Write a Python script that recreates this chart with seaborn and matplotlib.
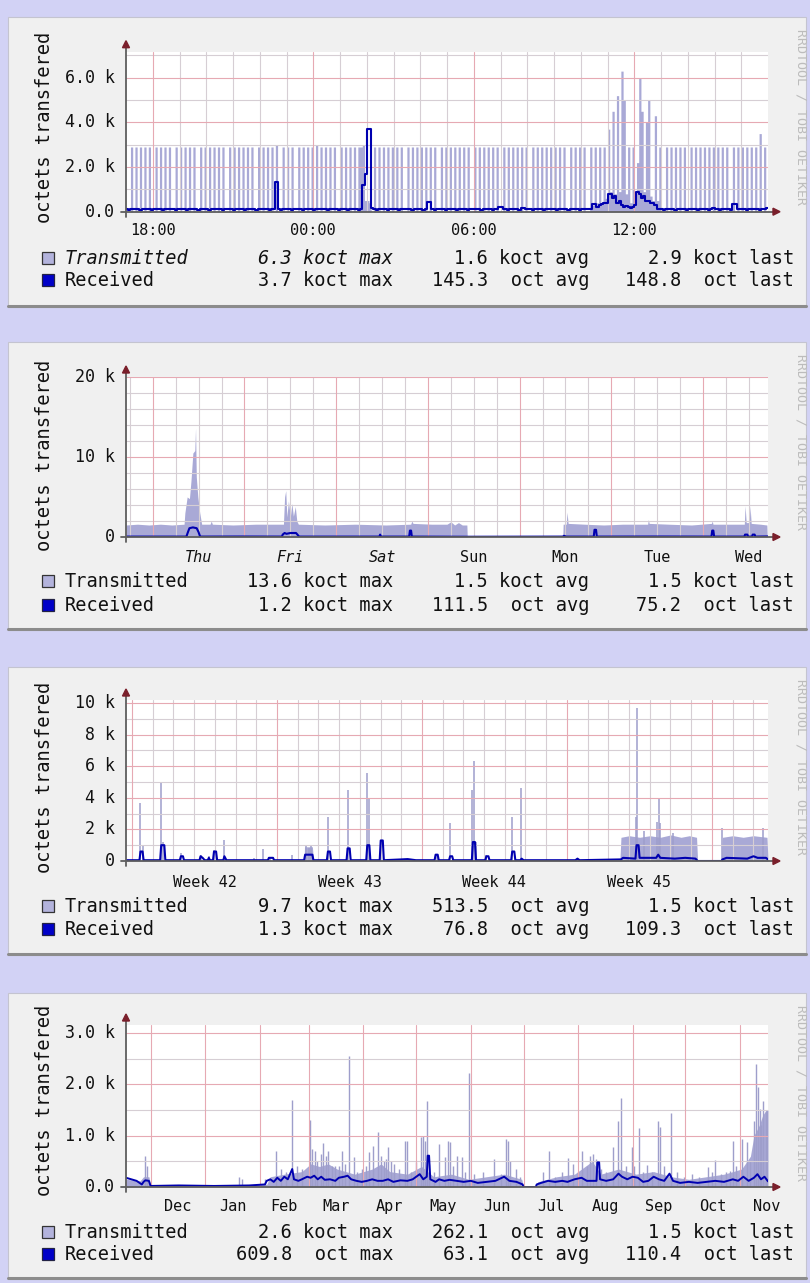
import numpy as np
import matplotlib
matplotlib.use("Agg")
import matplotlib.pyplot as plt
import seaborn as sns
from matplotlib.patches import Rectangle, Polygon
from matplotlib.lines import Line2D

# ----------------------------------------------------------------- data
# Daily graph: 5-minute samples starting 17:00 (koct), 12 rows of 2 hours
day_tx_rows = [
    [0, 0, 2.9, 0, 2.9, 0, 2.9, 0, 2.9, 0, 2.9, 0, 0, 2.9, 0, 2.9, 0, 2.9, 0, 2.9, 0, 0, 2.9, 0],
    [2.9, 0, 2.9, 0, 2.9, 0, 2.9, 0, 0, 2.9, 0, 2.9, 0, 2.9, 0, 2.9, 0, 2.9, 0, 2.9, 0, 0, 2.9, 0],
    [2.9, 0, 2.9, 0, 2.9, 0, 2.9, 0, 2.9, 0, 0, 2.9, 0, 2.9, 0, 2.9, 0, 2.9, 0, 3.0, 0, 0, 2.9, 0],
    [2.9, 0, 2.9, 0, 0, 2.9, 0, 2.9, 0, 2.9, 0, 2.9, 0, 3.0, 0, 2.9, 0, 2.9, 0, 2.9, 0, 2.9, 0, 0],
    [2.9, 0, 2.9, 0, 2.9, 0, 2.9, 0, 2.9, 2.9, 3.0, 0.5, 0.5, 0.4, 0, 2.9, 0, 2.9, 0, 2.9, 0, 2.9, 0, 2.9],
    [0, 2.9, 0, 2.9, 0, 0, 2.9, 0, 2.9, 0, 2.9, 0, 2.9, 0, 2.9, 0, 2.9, 0, 2.9, 0, 0, 2.9, 0, 2.9],
    [0, 2.9, 0, 2.9, 0, 2.9, 0, 2.9, 0, 2.9, 0, 0, 2.9, 0, 2.9, 0, 2.9, 0, 2.9, 0, 2.9, 0, 2.9, 0],
    [0, 2.9, 0, 2.9, 0, 2.9, 0, 2.9, 0, 2.9, 0, 2.9, 0, 0, 2.9, 0, 2.9, 0, 2.9, 0, 2.9, 0, 2.9, 0],
    [2.9, 0, 2.9, 0, 2.9, 0, 0, 2.9, 0, 2.9, 0, 2.9, 0, 2.9, 0, 0, 2.9, 0.3, 2.9, 0.4, 2.9, 0.4, 2.9, 0.6],
    [3.7, 0.9, 4.5, 0.8, 5.2, 0.9, 6.3, 5.0, 0.8, 2.9, 0.4, 2.9, 0.5, 2.2, 6.0, 4.5, 0.9, 4.0, 5.0, 0.7, 0.5, 4.3, 0.5, 2.9],
    [0, 0, 2.9, 0, 2.9, 0, 2.9, 0, 2.9, 0, 2.9, 0, 0, 2.9, 0, 2.9, 0, 2.9, 0, 2.9, 0, 2.9, 0, 2.9],
    [0, 2.9, 0, 2.9, 0, 2.9, 0, 0, 2.9, 0, 2.9, 0, 2.9, 0, 2.9, 0, 2.9, 0, 2.9, 0, 3.5, 0, 2.9, 0],
]
day_rx_rows = [
    [0.1, 0.08, 0.1, 0.12, 0.1, 0.1, 0.08, 0.1, 0.12, 0.1, 0.1, 0.08, 0.1, 0.1, 0.12, 0.1, 0.08, 0.1, 0.1, 0.12, 0.1, 0.1, 0.08, 0.1],
    [0.12, 0.1, 0.1, 0.08, 0.1, 0.12, 0.1, 0.1, 0.08, 0.1, 0.1, 0.12, 0.1, 0.08, 0.1, 0.1, 0.12, 0.1, 0.1, 0.08, 0.1, 0.12, 0.1, 0.1],
    [0.08, 0.1, 0.12, 0.1, 0.1, 0.08, 0.1, 0.1, 0.12, 0.1, 0.08, 0.1, 0.1, 0.12, 0.1, 0.1, 0.08, 0.1, 0.1, 1.35, 0.1, 0.08, 0.1, 0.12],
    [0.1, 0.1, 0.08, 0.1, 0.12, 0.1, 0.1, 0.08, 0.1, 0.1, 0.12, 0.1, 0.08, 0.1, 0.1, 0.12, 0.1, 0.1, 0.08, 0.1, 0.12, 0.1, 0.1, 0.08],
    [0.1, 0.12, 0.1, 0.08, 0.1, 0.1, 0.12, 0.1, 0.08, 0.1, 1.2, 1.7, 3.7, 3.7, 0.15, 0.1, 0.08, 0.1, 0.12, 0.1, 0.1, 0.08, 0.1, 0.1],
    [0.12, 0.1, 0.08, 0.1, 0.1, 0.12, 0.1, 0.1, 0.08, 0.1, 0.12, 0.1, 0.1, 0.08, 0.1, 0.45, 0.45, 0.1, 0.08, 0.1, 0.12, 0.1, 0.1, 0.08],
    [0.1, 0.1, 0.12, 0.1, 0.08, 0.1, 0.1, 0.12, 0.1, 0.08, 0.1, 0.1, 0.12, 0.1, 0.1, 0.08, 0.1, 0.12, 0.1, 0.1, 0.08, 0.1, 0.12, 0.2],
    [0.2, 0.1, 0.1, 0.08, 0.1, 0.12, 0.1, 0.1, 0.08, 0.15, 0.15, 0.1, 0.12, 0.1, 0.08, 0.1, 0.1, 0.12, 0.1, 0.08, 0.1, 0.1, 0.12, 0.1],
    [0.1, 0.08, 0.1, 0.12, 0.1, 0.1, 0.08, 0.1, 0.12, 0.1, 0.1, 0.08, 0.1, 0.12, 0.1, 0.1, 0.1, 0.35, 0.35, 0.2, 0.3, 0.35, 0.4, 0.4],
    [0.8, 0.8, 0.6, 0.7, 0.4, 0.5, 0.3, 0.2, 0.25, 0.2, 0.15, 0.2, 0.3, 0.9, 0.8, 0.6, 0.7, 0.5, 0.5, 0.4, 0.4, 0.3, 0.1, 0.1],
    [0.1, 0.08, 0.1, 0.12, 0.1, 0.1, 0.08, 0.1, 0.12, 0.1, 0.1, 0.08, 0.1, 0.12, 0.1, 0.1, 0.08, 0.1, 0.1, 0.12, 0.1, 0.08, 0.1, 0.15],
    [0.1, 0.1, 0.08, 0.1, 0.12, 0.1, 0.1, 0.08, 0.35, 0.35, 0.1, 0.1, 0.12, 0.1, 0.08, 0.1, 0.1, 0.12, 0.1, 0.1, 0.08, 0.1, 0.12, 0.15],
]
day_tick_hours = [1, 7, 13, 19]
day_tick_labels = ["18:00", "00:00", "06:00", "12:00"]

# Weekly graph: (hours since Wed 17:00, koct) vertices
week_tx = [(0, 1.5), (3, 1.6), (6, 1.5), (9, 1.6), (12, 1.5), (15.2, 1.6), (15.4, 3.0),
           (16.0, 5.0), (16.6, 4.8), (17.0, 7.0), (17.5, 10.5), (18.0, 10.8), (18.2, 13.6),
           (18.4, 7.5), (18.8, 5.0), (19.3, 3.0), (19.8, 1.6), (22.0, 1.6), (22.3, 2.0),
           (22.6, 1.6), (28, 1.5), (34, 1.6), (41.2, 1.6), (41.5, 5.0), (41.8, 5.8),
           (42.1, 2.5), (42.5, 4.5), (43.0, 2.5), (43.4, 4.2), (43.8, 2.6), (44.3, 3.8),
           (44.7, 2.0), (45.1, 1.6), (52, 1.5), (60, 1.6), (68, 1.5), (74.5, 1.6), (74.8, 2.0),
           (75.1, 1.7), (80, 1.6), (84, 1.6), (85, 1.9), (86, 1.5), (87, 1.8), (88, 1.5),
           (89.2, 1.5), (89.3, 0.0), (114.3, 0.0), (114.4, 1.6), (115.2, 1.6), (115.4, 3.1),
           (115.7, 1.7), (120, 1.6), (125, 1.5), (130, 1.6), (136.5, 1.6), (136.7, 2.2),
           (136.9, 1.7), (142, 1.6), (148, 1.5), (153.2, 1.7), (153.4, 2.0), (153.6, 1.6),
           (158, 1.6), (161.8, 1.6), (162.0, 3.9), (162.3, 1.8), (163.1, 1.8), (163.3, 3.9),
           (163.6, 1.7), (166, 1.6), (167.7, 1.5), (167.8, 0.0), (168, 0.0)]
week_rx = [(0, 0.05), (15.8, 0.05), (16.2, 0.6), (16.6, 1.1), (17.5, 1.2), (18.5, 1.1),
           (19.0, 0.6), (19.4, 0.05), (30, 0.06), (40.8, 0.05), (41.0, 0.3), (41.5, 0.5),
           (42.0, 0.4), (43.0, 0.5), (44.5, 0.5), (45.3, 0.05), (55, 0.05), (66.3, 0.05),
           (66.5, 0.3), (66.7, 0.05), (74.1, 0.05), (74.3, 0.8), (74.6, 0.8), (74.8, 0.05),
           (89.3, 0.03), (114.4, 0.05), (114.6, 0.15), (115.2, 0.05), (122.4, 0.05),
           (122.6, 0.9), (123.0, 0.9), (123.2, 0.05), (140, 0.06), (153.2, 0.05), (153.4, 0.8),
           (153.7, 0.8), (153.9, 0.05), (161.8, 0.05), (162.0, 0.3), (162.6, 0.3),
           (162.8, 0.05), (163.8, 0.05), (164.0, 0.3), (164.5, 0.3), (164.7, 0.05), (168, 0.07)]
week_tick_hours = [19, 43, 67, 91, 115, 139, 163]
week_tick_labels = ["Thu", "Fri", "Sat", "Sun", "Mon", "Tue", "Wed"]

# Monthly graph: (days since start, koct)
month_floor = [(0, 0.05), (8.6, 0.05), (8.62, 0.9), (9.0, 0.9), (9.05, 0.05), (23.85, 0.05),
               (23.9, 1.5), (24.3, 1.6), (24.8, 1.5), (25.3, 1.6), (25.8, 1.5), (26.3, 1.65),
               (26.8, 1.5), (27.2, 1.6), (27.55, 1.5), (27.6, 0.0), (28.75, 0.0), (28.8, 1.5),
               (29.3, 1.6), (29.8, 1.5), (30.3, 1.6), (30.95, 1.5), (31.0, 0.05)]
month_spikes = [(0.7, 3.7), (0.8, 1.0), (1.7, 5.0), (1.78, 1.2), (2.65, 0.5), (3.6, 0.4),
                (4.0, 0.3), (4.25, 0.7), (4.35, 0.6), (4.75, 1.3), (6.2, 0.2), (6.6, 0.75),
                (6.95, 0.25), (8.0, 0.35), (8.7, 1.0), (8.82, 0.8), (8.95, 1.0), (9.75, 2.8),
                (10.7, 4.5), (11.65, 5.6), (11.72, 4.0), (12.3, 1.3), (15.0, 0.45), (15.65, 2.4),
                (16.72, 4.5), (16.78, 6.3), (16.9, 1.2), (17.4, 0.4), (18.65, 2.8), (19.05, 4.6),
                (21.8, 0.15), (24.65, 2.8), (24.68, 9.7), (25.0, 1.9), (25.65, 2.5), (25.72, 4.0),
                (25.8, 2.4), (26.4, 1.8), (28.8, 2.1), (30.75, 2.1)]
month_rx = [(0, 0.05), (0.65, 0.05), (0.7, 0.6), (0.8, 0.6), (0.85, 0.05), (1.65, 0.05),
            (1.7, 1.0), (1.85, 1.0), (1.9, 0.05), (2.6, 0.05), (2.65, 0.3), (2.75, 0.3),
            (2.8, 0.05), (3.55, 0.05), (3.6, 0.3), (3.7, 0.2), (3.8, 0.05), (3.95, 0.05),
            (4.0, 0.2), (4.05, 0.05), (4.2, 0.05), (4.25, 0.6), (4.35, 0.6), (4.4, 0.05),
            (4.7, 0.05), (4.75, 0.3), (4.85, 0.05), (6.85, 0.05), (6.9, 0.2), (7.1, 0.2),
            (7.15, 0.05), (8.6, 0.05), (8.65, 0.4), (9.0, 0.4), (9.05, 0.05), (9.7, 0.05),
            (9.75, 0.6), (9.85, 0.6), (9.9, 0.05), (10.65, 0.05), (10.7, 0.8), (10.8, 0.8),
            (10.85, 0.05), (11.6, 0.05), (11.65, 1.0), (11.75, 1.0), (11.8, 0.05), (12.25, 0.05),
            (12.3, 1.3), (12.4, 1.3), (12.45, 0.05), (13.3, 0.1), (13.6, 0.12), (14.0, 0.05),
            (14.9, 0.05), (14.95, 0.4), (15.05, 0.4), (15.1, 0.05), (15.6, 0.05), (15.65, 0.3),
            (15.75, 0.3), (15.8, 0.05), (16.7, 0.05), (16.75, 1.2), (16.85, 1.2), (16.9, 0.05),
            (17.35, 0.05), (17.4, 0.3), (17.5, 0.3), (17.55, 0.05), (18.6, 0.05), (18.65, 0.6),
            (18.75, 0.6), (18.8, 0.05), (19.05, 0.05), (19.1, 0.15), (19.2, 0.05), (21.7, 0.05),
            (21.8, 0.15), (21.9, 0.05), (23.9, 0.1), (24.0, 0.2), (24.6, 0.15), (24.65, 1.0),
            (24.75, 1.0), (24.8, 0.2), (25.6, 0.2), (25.7, 0.4), (25.8, 0.2), (26.5, 0.15),
            (27.0, 0.2), (27.5, 0.15), (27.6, 0.0), (28.75, 0.0), (28.8, 0.1), (29.0, 0.2),
            (30.0, 0.15), (30.3, 0.3), (30.5, 0.2), (30.9, 0.2), (31.0, 0.1)]
month_tick_days = [3.79, 10.79, 17.79, 24.79]
month_tick_labels = ["Week 42", "Week 43", "Week 44", "Week 45"]

# Yearly graph: (days since Nov 17, koct)
year_floor = [(0, 0.15), (8, 0.12), (10, 0.2), (13, 0.2), (14, 0.05), (80, 0.05), (82, 0.2),
              (90, 0.25), (100, 0.3), (105, 0.45), (110, 0.4), (115, 0.45), (120, 0.35),
              (125, 0.3), (130, 0.25), (140, 0.35), (145, 0.45), (150, 0.3), (160, 0.25),
              (168, 0.4), (175, 0.2), (185, 0.25), (195, 0.15), (205, 0.2), (215, 0.25),
              (225, 0.15), (226, 0.0), (233, 0.0), (234, 0.1), (245, 0.2), (255, 0.25),
              (265, 0.5), (270, 0.25), (280, 0.35), (290, 0.25), (300, 0.3), (310, 0.2),
              (320, 0.15), (330, 0.2), (340, 0.25), (350, 0.35), (355, 0.6), (357, 1.0),
              (360, 1.2), (362, 1.4), (364, 1.5), (365, 1.5)]
year_spikes = [(11.0, 0.6), (12.2, 0.4), (64, 0.2), (66, 0.15), (79, 0.15), (85.3, 0.7),
               (87.9, 0.35), (91, 0.3), (94.4, 1.7), (97, 0.4), (100, 0.35), (104.6, 1.3),
               (105.6, 0.75), (107.4, 0.7), (108.5, 0.5), (110.9, 0.65), (112.2, 0.85),
               (113.5, 0.6), (115, 0.7), (117, 0.4), (119, 0.4), (121, 0.4), (122.6, 0.7),
               (124.5, 0.45), (127, 2.55), (129.8, 0.58), (131.5, 0.3), (134, 0.35),
               (136.5, 0.4), (138.3, 0.68), (140.6, 0.8), (143.4, 1.08), (145, 0.6),
               (146.5, 0.5), (148, 0.55), (149.1, 0.77), (150.5, 0.5), (152.5, 0.45),
               (155, 0.35), (158.6, 0.9), (159.6, 0.9), (162, 0.3), (164.9, 0.48),
               (167.5, 0.97), (168.7, 1.0), (170, 0.9), (171, 1.68), (172.3, 0.45), (175, 0.3),
               (178.1, 0.84), (181.4, 0.58), (183.3, 0.9), (184.2, 0.87), (186, 0.4),
               (188, 0.61), (190.8, 0.58), (193, 0.3), (195, 2.23), (198, 0.25), (203, 0.3),
               (209.4, 0.55), (213, 0.25), (216, 0.94), (217.3, 0.9), (218.5, 0.5), (222, 0.35),
               (224, 0.2), (237, 0.3), (240.7, 0.7), (244, 0.2), (248, 0.3), (251.5, 0.57),
               (254.3, 0.45), (257, 0.3), (259, 0.71), (262, 0.4), (264, 0.6), (265.7, 0.65),
               (267, 0.55), (270, 0.35), (273, 0.3), (277, 0.77), (279.9, 1.29), (281.4, 1.73),
               (284, 0.4), (287.5, 0.77), (289, 0.4), (291.8, 1.15), (294, 0.3), (296, 0.42),
               (299, 0.3), (302.6, 1.29), (303.6, 1.16), (306, 0.4), (309.7, 1.45), (313, 0.3),
               (317, 0.2), (322, 0.25), (326, 0.2), (331, 0.39), (333, 0.3), (334.9, 0.52),
               (338, 0.25), (341, 0.3), (343.4, 0.32), (345.3, 0.9), (347, 0.4), (350, 0.94),
               (352.9, 0.87), (355, 0.5), (357, 1.29), (358.2, 2.39), (359.5, 1.94),
               (360.4, 1.52), (361.3, 1.2), (362.3, 1.68), (363.8, 1.48), (364.5, 1.5)]
year_rx = [(0, 0.18), (3, 0.15), (6, 0.12), (9, 0.05), (10, 0.1), (11, 0.13), (13, 0.12),
           (14, 0.02), (30, 0.03), (50, 0.02), (70, 0.03), (79, 0.05), (80, 0.12), (82, 0.15),
           (84, 0.1), (86, 0.18), (88, 0.12), (90, 0.2), (92, 0.15), (94.5, 0.35), (95.5, 0.15),
           (98, 0.12), (100, 0.15), (103, 0.2), (105, 0.18), (107, 0.22), (109, 0.15),
           (111, 0.2), (113, 0.14), (116, 0.15), (119, 0.12), (121, 0.18), (124, 0.2),
           (126, 0.22), (128, 0.15), (131, 0.12), (134, 0.1), (137, 0.12), (140, 0.15),
           (143, 0.12), (146, 0.12), (149, 0.15), (152, 0.1), (156, 0.13), (160, 0.12),
           (163, 0.15), (167, 0.25), (169, 0.15), (171, 0.2), (171.5, 0.61), (172.3, 0.61),
           (173, 0.15), (176, 0.1), (178, 0.15), (181, 0.12), (184, 0.14), (188, 0.12),
           (192, 0.1), (196, 0.12), (200, 0.08), (205, 0.1), (210, 0.12), (215, 0.2),
           (218, 0.12), (222, 0.1), (225.5, 0.05), (226, 0.0), (233, 0.0), (233.5, 0.05),
           (236, 0.08), (240, 0.12), (244, 0.1), (248, 0.12), (251, 0.1), (255, 0.15),
           (259, 0.18), (262, 0.12), (267.5, 0.12), (268, 0.48), (269, 0.48), (269.5, 0.15),
           (273, 0.12), (277, 0.15), (280, 0.26), (282, 0.2), (285, 0.15), (288, 0.2),
           (291, 0.18), (294, 0.1), (297, 0.12), (300, 0.2), (303, 0.15), (306, 0.12),
           (309, 0.26), (311, 0.12), (315, 0.08), (320, 0.1), (325, 0.08), (330, 0.1),
           (335, 0.12), (340, 0.1), (345, 0.15), (348, 0.12), (351, 0.2), (354, 0.12),
           (357, 0.18), (359, 0.25), (361, 0.15), (363, 0.2), (365, 0.11)]
year_month_starts = [14, 45, 76, 104, 135, 165, 196, 226, 257, 288, 318, 349]
year_tick_days = [29.5, 60.5, 90, 119.5, 150, 180.5, 211, 241.5, 272.5, 303, 333.5, 364]
year_tick_labels = ["Dec", "Jan", "Feb", "Mar", "Apr", "May", "Jun", "Jul", "Aug", "Sep",
                    "Oct", "Nov"]

series_names = ["Transmitted", "Received"]
stats_day = [["6.3 koct max", "1.6 koct avg", "2.9 koct last"],
             ["3.7 koct max", "145.3  oct avg", "148.8  oct last"]]
stats_week = [["13.6 koct max", "1.5 koct avg", "1.5 koct last"],
              ["1.2 koct max", "111.5  oct avg", "75.2  oct last"]]
stats_month = [["9.7 koct max", "513.5  oct avg", "1.5 koct last"],
               ["1.3 koct max", "76.8  oct avg", "109.3  oct last"]]
stats_year = [["2.6 koct max", "262.1  oct avg", "1.5 koct last"],
              ["609.8  oct max", "63.1  oct avg", "110.4  oct last"]]

# ----------------------------------------------------------------- style
W, H = 810, 1283
sns.set_theme(style="white")
plt.rcParams['font.family'] = ['DejaVu Sans Mono', 'DejaVu Sans']

TX = "#a9a9d6"
TX_SPIKE = "#9e9ecb"
RX = "#0000b0"
MINOR = "#d6ced4"
MAJOR = "#e6a9b3"
AXIS = "#5e5e5e"
ARROW = "#7a1f2b"

fig = plt.figure(figsize=(W / 100, H / 100), dpi=100)
fig.patch.set_facecolor("#d2d2f5")


def F(x, y):
    return (x / W, 1 - y / H)


def ftext(x, y, s, **kw):
    fx, fy = F(x, y)
    return fig.text(fx, fy, s, **kw)


L, R = 126, 768


def panel(box, top, bottom, xlim, ylim, yticks, ylabels, hminor, hmajor, vminor, vmajor,
          xticks, xlabels, xl_base, leg_base, ylab_c, stats, italic_x=(), italic_tx=False):
    # panel background
    x0, y0 = F(8, box[1])
    fig.add_artist(Rectangle((x0, y0), 798 / W, (box[1] - box[0]) / H, transform=fig.transFigure,
                             facecolor="#f0f0f0", edgecolor="#c4c4d0", lw=0.8, zorder=-2))
    fig.add_artist(Line2D([8 / W, 806 / W], [1 - (box[1] - 1) / H] * 2, transform=fig.transFigure,
                          color="#8c8c8c", lw=2.2, zorder=-1))
    ax = fig.add_axes([L / W, 1 - bottom / H, (R - L) / W, (bottom - top) / H])
    ax.set_facecolor("white")
    for s in ax.spines.values():
        s.set_visible(False)
    ax.set_xticks([])
    ax.set_yticks([])
    for v in hminor:
        ax.axhline(v, color=MINOR, lw=0.8, zorder=2.5)
    for v in hmajor:
        ax.axhline(v, color=MAJOR, lw=0.8, zorder=2.6)
    for v in vminor:
        ax.axvline(v, color=MINOR, lw=0.8, zorder=2.5)
    for v in vmajor:
        ax.axvline(v, color=MAJOR, lw=0.8, zorder=2.6)
    ph = bottom - top
    # y tick labels
    for v, lab in zip(yticks, ylabels):
        ax.text(-11 / (R - L), v, lab, transform=ax.get_yaxis_transform(), ha="right",
                va="center", fontsize=12, color="#111111")
    # x tick labels
    for v, lab in zip(xticks, xlabels):
        ax.text(v, -(xl_base - bottom) / ph, lab, transform=ax.get_xaxis_transform(),
                ha="center", va="baseline", fontsize=11, color="#111111",
                style="italic" if lab in italic_x else "normal")
    # axes lines and arrows
    fig.add_artist(Line2D([L / W, L / W], [1 - (bottom + 5) / H, 1 - (top - 5) / H],
                          transform=fig.transFigure, color=AXIS, lw=1.3, zorder=5))
    fig.add_artist(Line2D([121 / W, 774 / W], [1 - bottom / H] * 2,
                          transform=fig.transFigure, color=AXIS, lw=1.3, zorder=5))
    fig.add_artist(Polygon([F(L - 3.5, top - 4), F(L + 3.5, top - 4), F(L, top - 11)],
                           closed=True, transform=fig.transFigure, color=ARROW, zorder=6))
    fig.add_artist(Polygon([F(773, bottom - 3.5), F(773, bottom + 3.5), F(780, bottom)],
                           closed=True, transform=fig.transFigure, color=ARROW, zorder=6))
    # y axis title
    ftext(45, ylab_c, "octets transfered", rotation=90, ha="center", va="center",
          fontsize=13.5, color="#111111")
    # watermark
    ftext(801, box[0] + 12, "RRDTOOL / TOBI OETIKER", rotation=270, ha="center", va="top",
          fontsize=9.6, color="#bcbcbc")
    # legend
    colors = [("#b3b3dc", "#333333"), ("#0000c8", "#222244")]
    for k in range(2):
        base = leg_base[k]
        sx, sy = F(42, base)
        fig.add_artist(Rectangle((sx, sy), 12 / W, 12 / H, transform=fig.transFigure,
                                 facecolor=colors[k][0], edgecolor=colors[k][1], lw=0.9, zorder=5))
        it = "italic" if (k == 0 and italic_tx) else "normal"
        ftext(65, base, series_names[k], ha="left", va="baseline", fontsize=13.4,
              color="#111111", style=it)
        for j, xe in enumerate([393, 589, 794]):
            it2 = "italic" if (k == 0 and italic_tx and j == 0) else "normal"
            ftext(xe, base, stats[k][j], ha="right", va="baseline", fontsize=13.4,
                  color="#111111", style=it2)
    ax.set_xlim(*xlim)
    ax.set_ylim(*ylim)
    return ax


# ---------------- panel 1: daily
ax1 = panel((17, 307), 51.7, 211.7, (0, 24), (0, 7.17), [0, 2, 4, 6],
            ["0.0", "2.0 k", "4.0 k", "6.0 k"], [1, 3, 5, 7], [2, 4, 6],
            [h for h in range(1, 24) if h not in day_tick_hours], day_tick_hours,
            day_tick_hours, day_tick_labels, 235, (263.5, 286), 127, stats_day,
            italic_tx=True)
day_tx = np.concatenate([np.array(r, float) for r in day_tx_rows])
day_rx = np.concatenate([np.array(r, float) for r in day_rx_rows])
t_day = np.arange(len(day_tx) + 1) / 12.0
ax1.fill_between(t_day, 0, np.append(day_tx, day_tx[-1]), step="post", color=TX, lw=0,
                 zorder=2)
sns.lineplot(x=t_day, y=np.append(day_rx, day_rx[-1]), ax=ax1, color=RX, lw=1.5,
             drawstyle="steps-post", estimator=None, sort=False, errorbar=None, zorder=3)
ax1.set_xlim(0, 24); ax1.set_ylim(0, 7.17); ax1.set_xlabel(""); ax1.set_ylabel("")

# ---------------- panel 2: weekly
ax2 = panel((342, 630), 377, 537, (0, 168), (0, 20), [0, 10, 20], ["0", "10 k", "20 k"],
            [2, 4, 6, 8, 12, 14, 16, 18], [10, 20],
            [h for h in range(1, 168, 6) if (h - 7) % 24 != 0], list(range(7, 168, 24)),
            week_tick_hours, week_tick_labels, 562, (586.7, 611), 455, stats_week,
            italic_x=("Thu", "Fri", "Sat"))
wt, wv = zip(*week_tx)
ax2.fill_between(wt, 0, wv, color=TX, lw=0, zorder=2)
rt, rv = zip(*week_rx)
sns.lineplot(x=list(rt), y=list(rv), ax=ax2, color=RX, lw=1.5, estimator=None, sort=False,
             errorbar=None, zorder=3)
ax2.set_xlim(0, 168); ax2.set_ylim(0, 20); ax2.set_xlabel(""); ax2.set_ylabel("")

# ---------------- panel 3: monthly
m_major = [0.29 + 7 * k for k in range(5)]
ax3 = panel((667, 955), 700, 861, (0, 31), (0, 10.19), [0, 2, 4, 6, 8, 10],
            ["0", "2 k", "4 k", "6 k", "8 k", "10 k"], [1, 3, 5, 7, 9], [2, 4, 6, 8, 10],
            [0.29 + k for k in range(31) if k % 7 != 0], m_major,
            month_tick_days, month_tick_labels, 886.7, (911.7, 935), 777, stats_month)
ft, fv = zip(*month_floor)
ax3.fill_between(ft, 0, fv, color=TX, lw=0, zorder=2)
st, sv = zip(*month_spikes)
ax3.vlines(st, 0, sv, color=TX_SPIKE, lw=1.1, zorder=2)
rt, rv = zip(*month_rx)
sns.lineplot(x=list(rt), y=list(rv), ax=ax3, color=RX, lw=1.5, estimator=None, sort=False,
             errorbar=None, zorder=3)
ax3.set_xlim(0, 31); ax3.set_ylim(0, 10.19); ax3.set_xlabel(""); ax3.set_ylabel("")

# ---------------- panel 4: yearly
ax4 = panel((993, 1279), 1025, 1187, (0, 365), (0, 3.156), [0, 1, 2, 3],
            ["0.0", "1.0 k", "2.0 k", "3.0 k"], [0.5, 1.5, 2.5], [1, 2, 3], [],
            year_month_starts, year_tick_days, year_tick_labels, 1210.7, (1238.3, 1260), 1100,
            stats_year)
ft, fv = zip(*year_floor)
ax4.fill_between(ft, 0, fv, color=TX, lw=0, zorder=2)
st, sv = zip(*year_spikes)
ax4.vlines(st, 0, sv, color=TX_SPIKE, lw=1.0, zorder=2)
rt, rv = zip(*year_rx)
sns.lineplot(x=list(rt), y=list(rv), ax=ax4, color=RX, lw=1.4, estimator=None, sort=False,
             errorbar=None, zorder=3)
ax4.set_xlim(0, 365); ax4.set_ylim(0, 3.156); ax4.set_xlabel(""); ax4.set_ylabel("")

for a in (ax1, ax2, ax3, ax4):
    a.set_xticks([]); a.set_yticks([])
    if a.get_legend() is not None:
        a.get_legend().remove()

fig.savefig("out.png", dpi=100, facecolor=fig.get_facecolor())
